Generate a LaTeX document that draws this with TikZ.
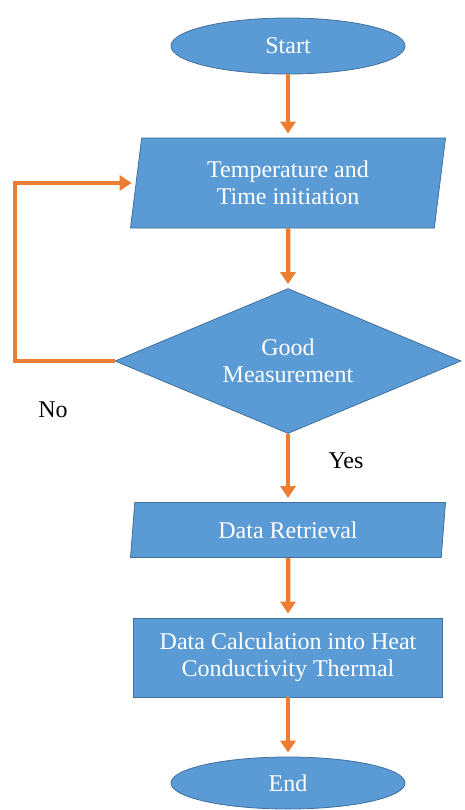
\documentclass[tikz,border=0pt]{standalone}
\usepackage{fontspec}
\setmainfont{Liberation Serif}
\usepackage{tikz}
\usetikzlibrary{shapes.geometric, arrows.meta}

\definecolor{boxblue}{RGB}{91,155,213}
\definecolor{edgeblue}{RGB}{65,113,156}
\definecolor{flowor}{RGB}{237,125,49}

\begin{document}
\begin{tikzpicture}[
  x=1pt, y=-1pt,
  every node/.style={font=\fontsize{24}{27}\selectfont, align=center, inner sep=0pt},
  blk/.style={draw=edgeblue, line width=0.8pt, fill=boxblue, text=white},
  term/.style={blk, ellipse, minimum width=234pt, minimum height=56pt},
  io/.style={blk, trapezium, trapezium left angle=75.7, trapezium right angle=104.3,
    trapezium stretches body, minimum width=315pt},
  cond/.style={blk, diamond, aspect=2.39, minimum width=346pt, minimum height=145pt},
  proc/.style={blk, rectangle, minimum width=309pt, minimum height=79pt},
  arr/.style={draw=flowor, line width=4.5pt, -{Triangle[width=15pt,length=12pt]}, shorten >=4pt}
]
\useasboundingbox (0,0) rectangle (465,810);

\node[term] (start) at (288,46) {Start};
\node[io, minimum height=90pt] (temp) at (288,183) {Temperature and\\Time initiation};
\node[cond] (dec) at (288,361) {Good\\Measurement};
\node[io, minimum height=55pt] (ret) at (288,530) {Data Retrieval};
\node[proc] (calc) at (288,657.5) {Data Calculation into Heat\\Conductivity Thermal};
\node[term, minimum height=52pt] (stop) at (288,783) {End};

\node (no) at (53,410) {No};
\node (yes) at (346,461) {Yes};

\coordinate (bend) at (15,361);

\draw[arr] (start) -- (temp);
\draw[arr] (temp) -- (dec);
\draw[arr] (dec) -- (ret);
\draw[arr] (ret) -- (calc);
\draw[arr] (calc) -- (stop);
\draw[arr] (dec.west) -- (bend) |- (temp);
\end{tikzpicture}
\end{document}
